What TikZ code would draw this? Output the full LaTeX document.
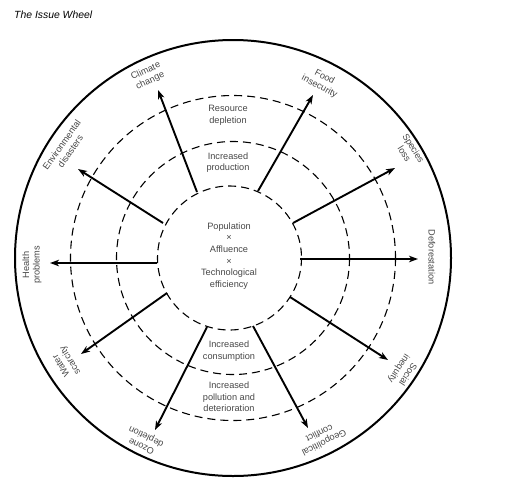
\documentclass[tikz,border=0pt]{standalone}
\usepackage{fontspec}
\setmainfont{Liberation Sans}
\usetikzlibrary{arrows.meta}
\definecolor{txt}{rgb}{0.28,0.28,0.28}
\tikzset{
  outerring/.style={line width=2pt, black},
  dashring/.style={line width=1.1pt, black, dash pattern=on 8pt off 5pt},
  arr/.style={line width=1.9pt, black, -{Stealth[length=9pt,width=6.5pt,inset=2.5pt]}},
  lbl/.style={align=center, inner sep=0pt, text=txt, font=\fontsize{9.2}{10.6}\selectfont},
  midtxt/.style={align=center, inner sep=0pt, text=txt, font=\fontsize{9.2}{11.6}\selectfont},
}
\begin{document}
\begin{tikzpicture}[x=1pt,y=-1pt]
\useasboundingbox (0,0) rectangle (510,482);
\coordinate (c) at (233,258);
\coordinate (ci) at (229.5,258);
% title
\node[anchor=west, inner sep=0pt, font=\fontsize{10.4}{12}\selectfont\itshape] (title) at (14,15) {The Issue Wheel};
% rings
\draw[outerring] (c) circle[radius=218];
\draw[dashring] (c) circle[radius=162.5];
\draw[dashring] (c) circle[radius=116.5];
\draw[dashring] (ci) circle[radius=72];
% centre and ring texts
\node[midtxt] (core) at (229,256) {Population\\×\\Affluence\\×\\Technological\\efficiency};
\node[midtxt] (resdep) at (228,115) {Resource\\depletion};
\node[midtxt] (incprod) at (228,162.5) {Increased\\production};
\node[midtxt] (inccons) at (229,351) {Increased\\consumption};
\node[midtxt] (incpoll) at (229,397) {Increased\\pollution and\\deterioration};
% arrow ends
\coordinate (sclim) at (197,192);  \coordinate (tclim) at (158,90);
\coordinate (sfood) at (258,191);  \coordinate (tfood) at (313,95);
\coordinate (sspec) at (293,223);  \coordinate (tspec) at (395,168);
\coordinate (sdefo) at (300,259);  \coordinate (tdefo) at (418,259);
\coordinate (ssoc) at (290,297);   \coordinate (tsoc) at (388,360);
\coordinate (sgeo) at (253,326);   \coordinate (tgeo) at (308,428);
\coordinate (sozo) at (207,327);   \coordinate (tozo) at (155,430);
\coordinate (swat) at (167,293);   \coordinate (twat) at (81,354);
\coordinate (shea) at (157,263);   \coordinate (thea) at (50,263);
\coordinate (senv) at (163,223);   \coordinate (tenv) at (78,169);
\draw[arr] (sclim) -- (tclim);
\draw[arr] (sfood) -- (tfood);
\draw[arr] (sspec) -- (tspec);
\draw[arr] (sdefo) -- (tdefo);
\draw[arr] (ssoc) -- (tsoc);
\draw[arr] (sgeo) -- (tgeo);
\draw[arr] (sozo) -- (tozo);
\draw[arr] (swat) -- (twat);
\draw[arr] (shea) -- (thea);
\draw[arr] (senv) -- (tenv);
% outer labels
\node[lbl, rotate=25] (lclim) at (148,76) {Climate\\change};
\node[lbl, rotate=-28] (lfood) at (322,82) {Food\\insecurity};
\node[lbl, rotate=-58] (lspec) at (409,151) {Species\\loss};
\node[lbl, rotate=-90] (ldefo) at (432,257) {Deforestation};
\node[lbl, rotate=-123] (lsoc) at (403,371) {Social\\inequity};
\node[lbl, rotate=-154] (lgeo) at (322,438) {Geopolitical\\conflict};
\node[lbl, rotate=154] (lozo) at (144,441) {Ozone\\depletion};
\node[lbl, rotate=122] (lwat) at (66,363) {Water\\scarcity};
\node[lbl, rotate=90] (lhea) at (32,265) {Health\\problems};
\node[lbl, rotate=55] (lenv) at (66,148) {Environmental\\disasters};
\end{tikzpicture}
\end{document}
